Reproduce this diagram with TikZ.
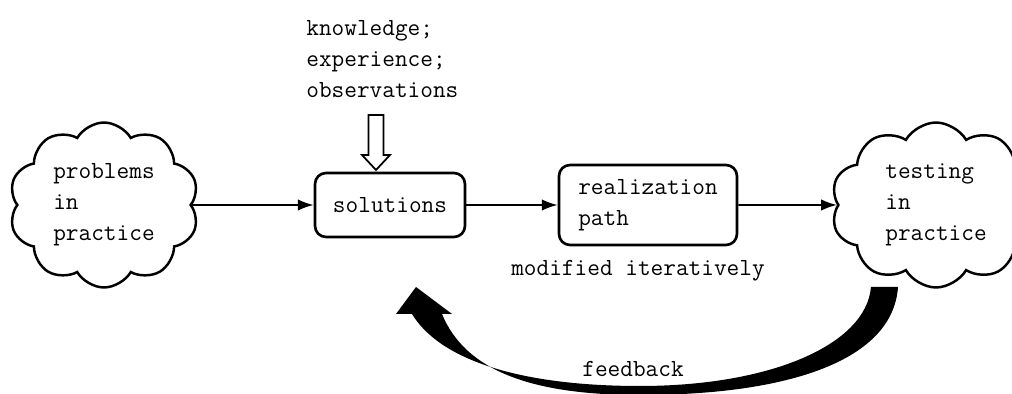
\documentclass[tikz,border=0pt]{standalone}
\usetikzlibrary{shapes.symbols,arrows.meta}
\newcommand{\schrift}{\fontsize{14}{17.6}\selectfont\ttfamily}
\tikzset{
  wolke/.style={cloud, draw, line width=1.4pt, cloud puffs=10, cloud puff arc=120,
                aspect=1.15, minimum width=3.8cm, minimum height=3.3cm,
                align=left, font=\schrift},
  kasten/.style={draw, rounded corners=0.22cm, line width=1.5pt, align=left, font=\schrift},
  pfeil/.style={-{Latex[length=9pt,width=6.5pt]}, line width=1.1pt},
  beschrift/.style={align=left, inner sep=0pt, font=\schrift}
}
\begin{document}
\begin{tikzpicture}[x=0.02cm,y=-0.02cm]
    \useasboundingbox (0,0) rectangle (1012,394);
    \clip (0,0) rectangle (1012,394); % Rand

    \node[wolke] (problem) at (104,205) {problems\\in\\practice};
    \node[wolke, minimum width=4.2cm] (test) at (936,205) {testing\\in\\practice};
    \node[kasten, minimum width=3cm, minimum height=1.28cm] (loesung) at (390,205) {solutions};
    \node[kasten, minimum width=3.56cm, minimum height=1.6cm] (weg) at (648,205) {realization\\path};
    \node[beschrift, anchor=north west] (wissen) at (306,20) {knowledge;\\experience;\\observations};
    \node[beschrift] (iter) at (638,271) {modified iteratively};
    \node[beschrift] (rueck) at (633,369) {feedback};

    \draw[pfeil] (problem) -- (loesung);
    \draw[pfeil] (loesung) -- (weg);
    \draw[pfeil] (weg) -- (test);

    % Hohlpfeil
    \coordinate (spitze) at (376,170);
    \draw[line width=1pt, fill=white, shift={(spitze)}]
          (0,0) -- (-14,-15) -- (-7.5,-15) -- (-7.5,-55) -- (7.5,-55) -- (7.5,-15) -- (14,-15) -- cycle;

    % Rueckkopplung
    \fill (871,287) -- (898,287)
          .. controls (893,360) and (790,395) .. (640,395)
          .. controls (530,395) and (465,370) .. (442,314)
          -- (452,314) -- (416,287) -- (396,314) -- (412,314)
          .. controls (440,360) and (520,386) .. (640,386)
          .. controls (770,386) and (866,345) .. (871,287) -- cycle;
\end{tikzpicture}
\end{document}
